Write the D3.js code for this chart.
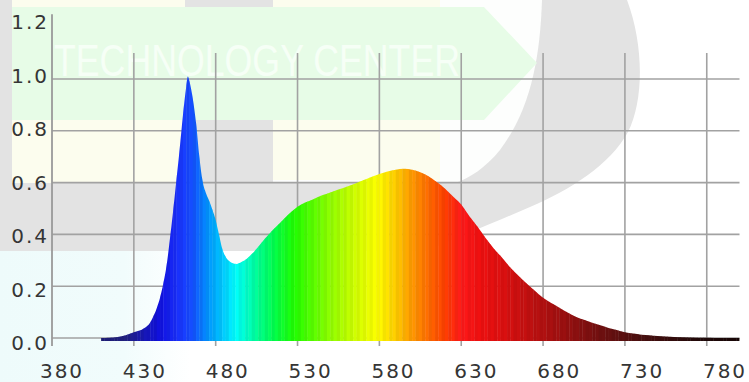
<!DOCTYPE html>
<html>
<head>
<meta charset="utf-8">
<script src="https://cdn.jsdelivr.net/npm/d3@7"></script>
<style>
    html, body { margin: 0; padding: 0; background: #fff; }
    svg { display: block; }
    .tick-label { font-family: "DejaVu Sans", sans-serif; font-size: 20px; letter-spacing: 2px; fill: #353535; }
</style>
</head>
<body>
<div id="app"></div>
<script>
// ----- Data -----
const wavelengths = [410, 415, 420, 425, 430, 436, 440, 442, 444, 446, 448, 450,
    452, 454, 456, 458, 460, 462, 463, 464, 466, 468, 470, 472, 474, 476, 478, 480, 482, 484,
    486, 488, 490, 493, 496, 499, 502, 506, 510, 515, 520, 525, 530, 535, 540, 545, 550, 555,
    560, 565, 570, 575, 580, 585, 590, 595, 600, 605, 610, 615, 620, 625, 630, 635, 640, 645,
    650, 655, 660, 665, 670, 675, 680, 685, 690, 695, 700, 705, 710, 715, 720, 725, 730, 735,
    740, 745, 750, 760, 770, 780, 790, 800];
const intensities = [0, 0.001, 0.004, 0.011, 0.022, 0.037, 0.06, 0.085, 0.115, 0.155, 0.21, 0.28,
    0.38, 0.49, 0.61, 0.73, 0.86, 0.97, 1.01, 0.99, 0.925, 0.83, 0.70, 0.605, 0.56, 0.53, 0.495, 0.455, 0.40, 0.345,
    0.315, 0.298, 0.29, 0.286, 0.294, 0.306, 0.324, 0.352, 0.383, 0.418, 0.449, 0.481, 0.507, 0.524, 0.537, 0.551, 0.562, 0.573,
    0.584, 0.596, 0.609, 0.622, 0.633, 0.643, 0.65, 0.653, 0.65, 0.64, 0.625, 0.602, 0.577, 0.546, 0.515, 0.47, 0.43, 0.385,
    0.345, 0.31, 0.272, 0.24, 0.21, 0.182, 0.155, 0.135, 0.117, 0.098, 0.082, 0.07, 0.059, 0.049, 0.039, 0.031, 0.022, 0.017,
    0.013, 0.011, 0.008, 0.004, 0.002, 0.001, 0, 0];

const xTicks = [380, 430, 480, 530, 580, 630, 680, 730, 780];
const yTicks = [0, 0.2, 0.4, 0.6, 0.8, 1.0, 1.2];
const yTickLabels = ["0.0", "0.2", "0.4", "0.6", "0.8", "1.0", "1.2"];

// spectrum colour stops (wavelength -> colour)
const colorNm = [400, 425, 435, 446, 458, 466, 476, 488, 492, 505, 515, 528, 550, 565, 579, 590, 600, 611, 620, 630, 641, 653, 672, 690, 715, 740, 776, 800];
const colorHex = ["#1c1c70", "#202080", "#1818b0", "#1010e0", "#1a34ff", "#1450ff", "#0099ff", "#00e0ff", "#00ffff", "#00ff99", "#00ff50", "#20ff00",
    "#90ff00", "#d0ff00", "#ffff00", "#ffcc00", "#ff9900", "#ff6600", "#ff4000", "#ff1a1a", "#f01010", "#e01010", "#c01010",
    "#a01010", "#701010", "#4a1010", "#200808", "#180606"];

// ----- Main program -----
function main() {
    const W = 749, H = 382;
    const data = wavelengths.map((nm, i) => ({ nm: nm, v: intensities[i] }));

    const svg = d3.select("#app").append("svg")
        .attr("width", W)
        .attr("height", H);

    const defs = svg.append("defs");

    // Watermark logo in the background
    const wm = svg.append("g").attr("class", "watermark");
    const cyanGrad = defs.append("linearGradient").attr("id", "cyan-fade");
    cyanGrad.append("stop").attr("offset", "0%").attr("stop-color", "#eefbfb");
    cyanGrad.append("stop").attr("offset", "65%").attr("stop-color", "#f1fcfc");
    cyanGrad.append("stop").attr("offset", "100%").attr("stop-color", "#ffffff");
    wm.append("rect").attr("x", 0).attr("y", 250).attr("width", 190).attr("height", 132)
        .attr("fill", "url(#cyan-fade)");
    // big gray "D"
    wm.append("path")
        .attr("d", "M0,0 H627 C644,45 644,100 628,132 C610,165 570,190 530,207 C500,220 470,232 445,243 L425,251 H0 Z")
        .attr("fill", "#e3e3e3");
    // counter of the D
    wm.append("path")
        .attr("d", "M12,0 H542 C540,60 530,110 500,150 C485,168 470,178 455,183 H12 Z")
        .attr("fill", "#fdfefd");
    // green arrow
    wm.append("path")
        .attr("d", "M12,7 H484 L537,63 L484,120 H12 Z")
        .attr("fill", "#e7fce7");
    // yellow blocks with gray gap
    [[12, 0, 173, 7], [273, 0, 167, 7], [12, 120, 173, 63], [273, 120, 167, 60]].forEach(r => {
        wm.append("rect").attr("x", r[0]).attr("y", r[1]).attr("width", r[2]).attr("height", r[3])
            .attr("fill", "#fcfdee");
    });
    [[185, 0, 88, 7], [185, 120, 88, 63]].forEach(r => {
        wm.append("rect").attr("x", r[0]).attr("y", r[1]).attr("width", r[2]).attr("height", r[3])
            .attr("fill", "#e3e3e3");
    });
    wm.append("text")
        .attr("x", 54)
        .attr("y", 76)
        .attr("textLength", 406)
        .attr("lengthAdjust", "spacingAndGlyphs")
        .style("font-family", "'Liberation Sans Narrow', 'Liberation Sans', sans-serif")
        .style("font-size", "44px")
        .attr("fill", "#f6fff6")
        .text("TECHNOLOGY CENTER");

    // Scales
    const x = d3.scaleLinear().domain([380, 800]).range([52, 739.5]);
    const y = d3.scaleLinear().domain([0, 1]).range([338, 79]);
    const xLab = d3.scaleLinear().domain([380, 780]).range([62, 725]);
    const yLab = d3.scaleLinear().domain([0, 1.2]).range([343, 22]);
    const color = d3.scaleLinear().domain(colorNm).range(colorHex)
        .interpolate(d3.interpolateRgb).clamp(true);

    // Grid
    const grid = svg.append("g").attr("class", "grid")
        .attr("stroke", "#a2a2a2")
        .attr("stroke-width", 1.6);
    grid.selectAll("line.h")
        .data(yTicks.filter(v => v <= 1))
        .enter()
        .append("line")
            .attr("class", "h")
            .attr("x1", x(380))
            .attr("x2", x(800))
            .attr("y1", d => y(d))
            .attr("y2", d => y(d));
    grid.selectAll("line.v")
        .data(xTicks.slice(1))
        .enter()
        .append("line")
            .attr("class", "v")
            .attr("x1", d => x(d))
            .attr("x2", d => x(d))
            .attr("y1", y(1.1))
            .attr("y2", y(0) + 8);
    // y-axis line
    svg.append("line")
        .attr("x1", x(380)).attr("x2", x(380))
        .attr("y1", y(1.25)).attr("y2", y(0) + 8)
        .attr("stroke", "#999")
        .attr("stroke-width", 1.8);

    // Spectrum area filled with coloured stripes
    const area = d3.area()
        .x(d => x(d.nm))
        .y0(y(0) + 3)
        .y1(d => y(d.v))
        .curve(d3.curveMonotoneX);
    defs.append("clipPath").attr("id", "spec-clip")
        .append("path")
        .attr("d", area(data));

    const step = 2;
    svg.append("g")
        .attr("clip-path", "url(#spec-clip)")
        .selectAll("rect")
        .data(d3.range(380, 800, step))
        .enter()
        .append("rect")
            .attr("x", d => x(d))
            .attr("width", d => x(d + step) - x(d) + 0.4)
            .attr("y", y(1.1))
            .attr("height", y(0) + 3 - y(1.1))
            .attr("fill", (d, i) => {
                const c = d3.color(color(d + step / 2));
                return i % 2 ? c.darker(0.12).formatHex() : c.formatHex();
            });

    // Tick labels
    svg.append("g")
        .selectAll("text")
        .data(xTicks)
        .enter()
        .append("text")
            .attr("class", "tick-label")
            .attr("x", d => xLab(d))
            .attr("y", 378)
            .attr("text-anchor", "middle")
            .text(d => d);
    svg.append("g")
        .selectAll("text")
        .data(yTicks)
        .enter()
        .append("text")
            .attr("class", "tick-label")
            .attr("x", 49)
            .attr("y", d => yLab(d))
            .attr("dy", "0.36em")
            .attr("text-anchor", "end")
            .text((d, i) => yTickLabels[i]);
}

main();
</script>
</body>
</html>
